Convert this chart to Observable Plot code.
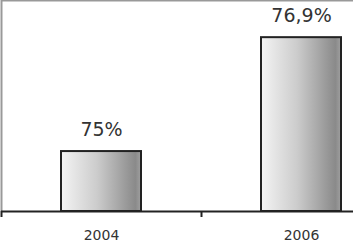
<!DOCTYPE html>
<html>
<head>
<meta charset="utf-8">
<script src="https://cdn.jsdelivr.net/npm/d3@7"></script>
<script src="https://cdn.jsdelivr.net/npm/@observablehq/plot@0.6"></script>
<style>
  html, body { margin: 0; padding: 0; background: #fff; }
  #chart svg { display: block; }
</style>
</head>
<body>
<div id="chart"></div>
<script>
const years = [2004, 2006];
const values = [75, 76.9];
const valueLabels = ["75%", "76,9%"];
const boundaries = [2003, 2005];
const baseline = 74;
const yTop = 77.52;
const xDomain = [2003, 2006.52];

const data = years.map((year, i) => ({ year, value: values[i], label: valueLabels[i] }));

const chart = Plot.plot({
  width: 353,
  height: 242,
  marginTop: 0,
  marginBottom: 31,
  marginLeft: 1,
  marginRight: 0,
  style: { fontFamily: "DejaVu Sans", background: "white", overflow: "hidden" },
  x: { type: "linear", domain: xDomain, label: null },
  y: { domain: [baseline, yTop], axis: null, label: null },
  marks: [
    Plot.ruleY([yTop], { stroke: "#999", strokeWidth: 2 }),
    Plot.ruleX([xDomain[0]], { stroke: "#999", strokeWidth: 2 }),
    Plot.rectY(data, {
      x1: d => d.year - 0.4,
      x2: d => d.year + 0.4,
      y1: baseline,
      y2: "value",
      fill: "url(#barGrad)",
      stroke: "#222",
      strokeWidth: 2
    }),
    Plot.ruleY([baseline], { stroke: "#222", strokeWidth: 2 }),
    Plot.axisX({ ticks: boundaries, tickFormat: () => "", tickSize: 6, stroke: "#222", strokeWidth: 2, label: null }),
    Plot.axisX({ ticks: years, tickSize: 0, tickPadding: 19, tickFormat: d => String(d), fontSize: 14, fill: "#333", label: null }),
    Plot.text(data, { x: "year", y: "value", text: "label", dy: -16, lineAnchor: "bottom", fontSize: 19, fill: "#333" })
  ]
});

const defs = d3.select(chart).insert("defs", ":first-child");
const grad = defs.append("linearGradient").attr("id", "barGrad").attr("x1", 0).attr("x2", 1).attr("y1", 0).attr("y2", 0);
grad.append("stop").attr("offset", "0%").attr("stop-color", "#f4f4f4");
grad.append("stop").attr("offset", "45%").attr("stop-color", "#cccccc");
grad.append("stop").attr("offset", "93%").attr("stop-color", "#8a8a8a");
grad.append("stop").attr("offset", "100%").attr("stop-color", "#a0a0a0");

document.getElementById("chart").appendChild(chart);
</script>
</body>
</html>
